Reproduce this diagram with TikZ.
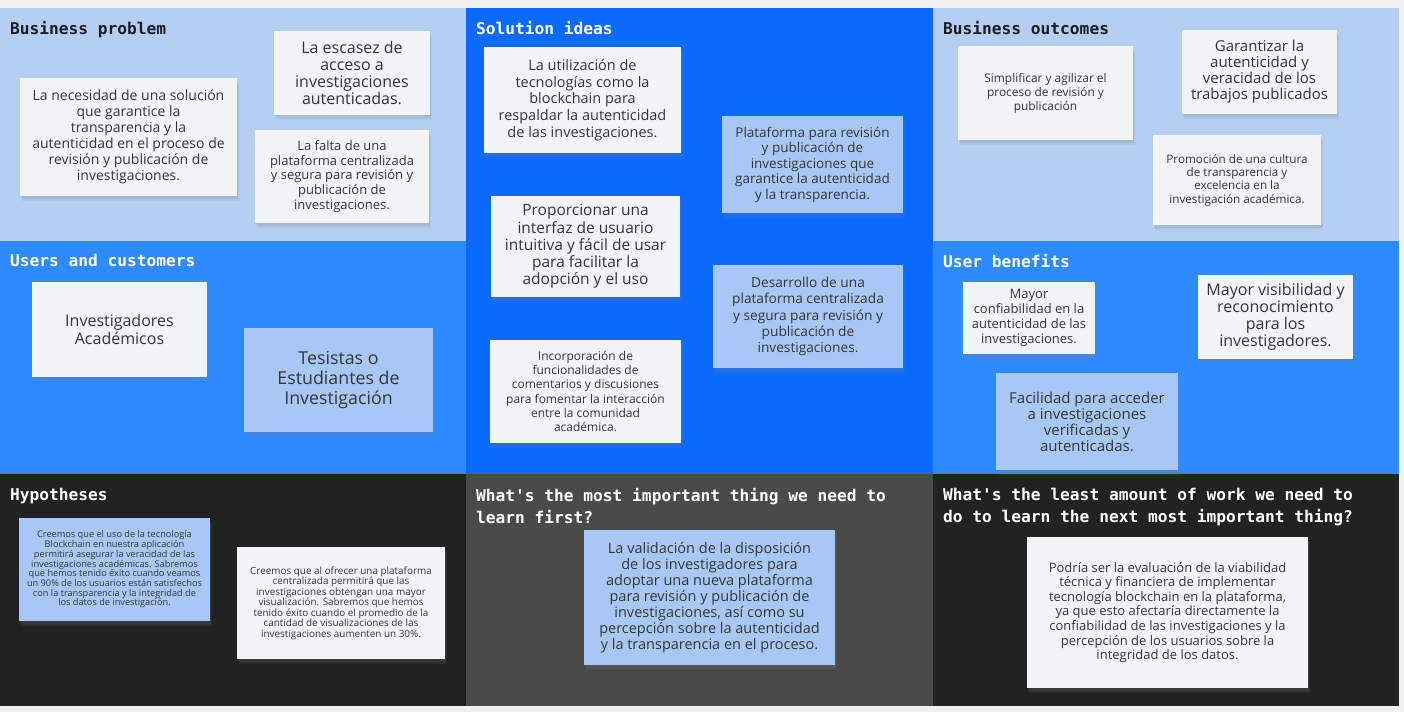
\documentclass[tikz,border=0pt]{standalone}
\usepackage{fontspec}
\setmainfont{Open Sans}
\newfontfamily\titlefont{DejaVu Sans Mono}
\usetikzlibrary{shadows}
\definecolor{canvas}{HTML}{F0F0F0}
\definecolor{panellight}{HTML}{B5CFF2}
\definecolor{panelblue}{HTML}{2E8BFF}
\definecolor{panelsolution}{HTML}{0B6BFF}
\definecolor{paneldark}{HTML}{222222}
\definecolor{panelgrey}{HTML}{4A4A4A}
\definecolor{notewhite}{HTML}{F3F4F7}
\definecolor{noteblue}{HTML}{A7C8F4}
\definecolor{notetext}{HTML}{353535}
\definecolor{titledark}{HTML}{1B1B26}
\tikzset{
    size/.style 2 args = {minimum width=#1pt, minimum height=#2pt},
    txt/.style 2 args = {font=\fontsize{#1}{#2}\selectfont},
}
\begin{document}
\begin{tikzpicture} [
                x=1pt, y=-1pt,
                panel title/.style = {anchor=north west, inner sep=0pt, align=left,
                    font=\titlefont\bfseries\fontsize{16.2}{22}\selectfont, text=white},
                dark title/.style = {panel title, text=titledark},
                note/.style = {fill=notewhite, text=notetext, align=center, inner sep=0pt,
                    drop shadow={shadow xshift=2pt, shadow yshift=-5pt, opacity=.12},
                    drop shadow={shadow xshift=1pt, shadow yshift=-2.5pt, opacity=.15}},
                blue note/.style = {note, fill=noteblue},
            ]
            \useasboundingbox (0,0) rectangle (1404,712);
            \fill[canvas] (0,0) rectangle (1404,712);
            % First we draw the panels
            \foreach \from/\to/\col in {
                    {(0,8)/(466,241)/panellight},
                    {(933,8)/(1399,241)/panellight},
                    {(0,241)/(466,474)/panelblue},
                    {(933,241)/(1399,474)/panelblue},
                    {(466,8)/(933,474)/panelsolution},
                    {(0,474)/(466,706)/paneldark},
                    {(466,474)/(933,706)/panelgrey},
                    {(933,474)/(1399,706)/paneldark}}
                \fill[\col] \from rectangle \to;
            % Panel titles
            \node[dark title] (problem) at (10,21) {Business problem};
            \node[panel title] (ideas) at (476,21) {Solution ideas};
            \node[dark title] (outcomes) at (943,21) {Business outcomes};
            \node[panel title] (users) at (10,254) {Users and customers};
            \node[panel title] (benefits) at (943,254) {User benefits};
            \node[panel title] (hypotheses) at (10,488) {Hypotheses};
            \node[panel title] (first) at (476,488) {What's the most important thing we need to\\learn first?};
            \node[panel title] (least) at (943,488) {What's the least amount of work we need to\\do to learn the next most important thing?};
            % Business problem notes
            \node[note, size={217}{118}, txt={14}{16}] (need) at (128.5,137)
                {La necesidad de una solución\\que garantice la\\transparencia y la\\autenticidad en el proceso de\\revisión y publicación de\\investigaciones.};
            \node[note, size={156}{84}, txt={16}{17}] (scarce) at (352,73)
                {La escasez de\\acceso a\\investigaciones\\autenticadas.};
            \node[note, size={174}{93}, txt={13}{14.7}] (lack) at (342,176.5)
                {La falta de una\\plataforma centralizada\\y segura para revisión y\\publicación de\\investigaciones.};
            % Solution ideas notes
            \node[note, size={197}{106}, txt={14.5}{16.7}] (chain) at (582.5,100)
                {La utilización de\\tecnologías como la\\blockchain para\\respaldar la autenticidad\\de las investigaciones.};
            \node[blue note, size={181}{97}, txt={13.5}{15.5}] (platform) at (812.5,164.5)
                {Plataforma para revisión\\y publicación de\\investigaciones que\\garantice la autenticidad\\y la transparencia.};
            \node[note, size={189}{101}, txt={15.5}{17.3}] (interface) at (585.5,246.5)
                {Proporcionar una\\interfaz de usuario\\intuitiva y fácil de usar\\para facilitar la\\adopción y el uso};
            \node[blue note, size={190}{103}, txt={13.7}{16.2}] (develop) at (808,316.5)
                {Desarrollo de una\\plataforma centralizada\\y segura para revisión y\\publicación de\\investigaciones.};
            \node[note, size={191}{103}, txt={12}{14.2}] (comments) at (585.5,391.5)
                {Incorporación de\\funcionalidades de\\comentarios y discusiones\\para fomentar la interacción\\entre la comunidad\\académica.};
            % Business outcomes notes
            \node[note, size={175}{94}, txt={11.9}{14}] (simplify) at (1045.5,93)
                {Simplificar y agilizar el\\proceso de revisión y\\publicación};
            \node[note, size={155}{84}, txt={15}{16}] (guarantee) at (1259.5,72)
                {Garantizar la\\autenticidad y\\veracidad de los\\trabajos publicados};
            \node[note, size={168}{90}, txt={11.7}{13.3}] (culture) at (1237,180)
                {Promoción de una cultura\\de transparencia y\\excelencia en la\\investigación académica.};
            % Users and customers notes
            \node[note, size={175}{95}, txt={16}{18}] (academics) at (119.5,329)
                {Investigadores\\Académicos};
            \node[blue note, size={189}{104}, txt={17.8}{20}] (students) at (338.5,380)
                {Tesistas o\\Estudiantes de\\Investigación};
            % User benefits notes
            \node[note, size={132}{72}, txt={13}{15}] (trust) at (1029,318)
                {Mayor\\confiabilidad en la\\autenticidad de las\\investigaciones.};
            \node[note, size={155}{84}, txt={16}{17}] (visible) at (1275.5,317)
                {Mayor visibilidad y\\reconocimiento\\para los\\investigadores.};
            \node[blue note, size={182}{97}, txt={15}{16}] (access) at (1087,421.5)
                {Facilidad para acceder\\a investigaciones\\verificadas y\\autenticadas.};
            % Hypotheses notes
            \node[blue note, size={191}{103}, txt={9.2}{9.7}] (hypochain) at (114.5,569.5)
                {Creemos que el uso de la tecnología\\Blockchain en nuestra aplicación\\permitirá asegurar la veracidad de las\\investigaciones académicas. Sabremos\\que hemos tenido éxito cuando veamos\\un 90\% de los usuarios están satisfechos\\con la transparencia y la integridad de\\los datos de investigación.};
            \node[note, size={208}{112}, txt={9.9}{10.5}] (hypoviews) at (341,603)
                {Creemos que al ofrecer una plataforma\\centralizada permitirá que las\\investigaciones obtengan una mayor\\visualización. Sabremos que hemos\\tenido éxito cuando el promedio de la\\cantidad de visualizaciones de las\\investigaciones aumenten un 30\%.};
            % Learning notes
            \node[blue note, size={251}{135}, txt={14.5}{16}] (validate) at (709.5,597.5)
                {La validación de la disposición\\de los investigadores para\\adoptar una nueva plataforma\\para revisión y publicación de\\investigaciones, así como su\\percepción sobre la autenticidad\\y la transparencia en el proceso.};
            \node[note, size={281}{151}, txt={13}{14.6}] (feasible) at (1167.5,612.5)
                {Podría ser la evaluación de la viabilidad\\técnica y financiera de implementar\\tecnología blockchain en la plataforma,\\ya que esto afectaría directamente la\\confiabilidad de las investigaciones y la\\percepción de los usuarios sobre la\\integridad de los datos.};
        \end{tikzpicture}
\end{document}
